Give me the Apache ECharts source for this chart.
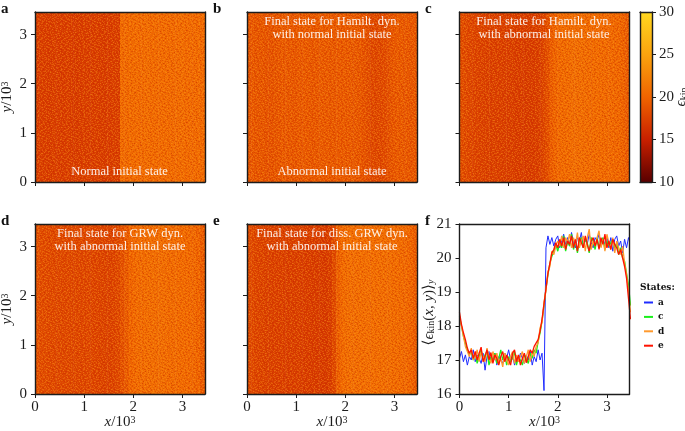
<!DOCTYPE html>
<html><head><meta charset="utf-8">
<style>html,body{margin:0;padding:0;background:#fff}#c{width:685px;height:431px}</style>
<script src="https://cdn.jsdelivr.net/npm/echarts@6/dist/echarts.min.js"></script>
</head><body><div id="c"></div>
<script>
const xMaxK = 3.46;
const tickK = [0, 1, 2, 3];
const colormap = ['#5a0000', '#c82000', '#f06400', '#fba30e', '#ffd720'];

// column means of the kinetic energy, 40 equal columns across each map
const heatA = [17.0,17.1,17.0,16.9,17.1,17.0,17.0,17.1,17.0,16.9,17.0,17.1,17.0,17.0,17.1,17.0,16.9,17.0,17.1,17.0,
  20.5,20.4,20.5,20.5,20.4,20.5,20.6,20.4,20.5,20.4,20.5,20.5,20.4,20.5,20.6,20.4,20.5,20.4,20.5,20.4];
const heatB = [19.0,19.0,18.9,18.9,18.7,18.7,18.8,19.0,19.1,19.1,19.0,19.0,19.1,19.2,19.1,19.0,19.1,19.1,19.2,19.1,
  19.1,19.2,19.1,19.1,19.1,19.1,19.0,18.7,18.2,17.9,17.8,17.9,18.1,18.5,19.0,19.1,19.1,19.0,18.9,18.9];
const heatC = [18.2,17.9,17.7,17.5,17.4,17.3,17.3,17.2,17.2,17.2,17.1,17.1,17.1,17.0,17.0,16.9,16.9,17.0,17.1,17.4,
  18.2,19.2,19.9,20.3,20.5,20.5,20.6,20.6,20.6,20.6,20.5,20.5,20.5,20.4,20.4,20.3,20.2,20.1,19.8,19.2];
const heatD = [18.4,18.1,18.0,17.9,17.9,17.8,17.8,17.8,17.8,17.8,17.7,17.7,17.7,17.6,17.6,17.5,17.4,17.4,17.5,17.8,
  18.5,19.3,20.0,20.3,20.5,20.5,20.6,20.6,20.6,20.6,20.6,20.5,20.5,20.5,20.4,20.4,20.3,20.2,19.9,19.3];
const heatE = [18.0,17.7,17.5,17.4,17.3,17.3,17.2,17.2,17.2,17.1,17.1,17.1,17.1,17.0,17.0,16.9,16.9,16.8,16.8,17.1,
  18.0,19.6,20.4,20.6,20.7,20.7,20.7,20.7,20.7,20.7,20.7,20.6,20.6,20.6,20.5,20.5,20.4,20.2,20.0,19.3];

// y-averaged profiles sampled every 0.04 (x/10^3) from x = 0
const profileStep = 0.04;
const profileA = [17.05,17.25,16.95,17.15,16.85,17.1,17.0,17.3,16.95,17.15,17.05,16.9,17.2,16.7,17.1,17.25,16.95,17.05,17.2,16.85,
  17.1,17.0,16.9,17.2,17.05,17.3,17.0,17.15,16.85,17.1,16.95,17.2,17.05,16.9,17.15,17.0,17.25,16.85,17.1,16.95,
  17.3,17.0,17.2,16.1,20.3,20.65,20.4,20.6,20.35,20.55,20.65,20.3,20.5,20.7,20.4,20.6,20.35,20.75,20.45,20.3,
  20.6,20.5,20.75,20.3,20.55,20.4,20.7,20.45,20.3,20.6,20.5,20.7,20.35,20.55,20.4,20.65,20.3,20.6,20.2,20.55,
  20.65,20.35,20.5,20.15,20.55,20.3,20.6,20.4];
const profileC = [18.3,18.0,17.7,17.5,17.3,17.15,17.25,17.0,17.2,16.9,17.1,17.3,17.0,17.15,17.25,16.85,17.1,17.0,17.2,16.9,
  17.05,17.3,17.0,17.2,16.85,17.1,16.95,17.05,17.25,16.85,17.1,17.0,16.85,17.15,17.05,16.9,17.2,17.05,17.3,17.2,
  17.55,17.8,18.15,18.6,19.1,19.5,19.85,20.05,20.2,20.4,20.2,20.45,20.3,20.65,20.2,20.5,20.35,20.7,20.25,20.5,
  20.15,20.5,20.6,20.3,20.55,20.45,20.15,20.6,20.5,20.25,20.6,20.3,20.45,20.6,20.25,20.5,20.35,20.3,20.55,20.3,
  20.45,20.1,20.3,20.0,19.9,19.55,19.2,18.6];
const profileD = [18.2,18.0,17.7,17.4,17.4,17.1,17.35,17.0,17.1,17.3,16.95,17.25,17.1,16.95,17.35,17.1,16.9,17.25,17.0,17.2,
  16.9,17.05,16.8,17.2,17.0,16.85,17.1,17.25,16.9,17.15,16.95,17.1,17.25,16.9,17.1,17.3,16.95,17.25,17.1,17.4,
  17.5,17.95,18.1,18.7,19.05,19.6,19.75,20.2,20.1,20.35,20.5,20.35,20.65,20.3,20.6,20.45,20.7,20.3,20.6,20.4,
  20.75,20.3,20.5,20.65,20.2,20.6,20.85,20.25,20.5,20.35,20.6,20.8,20.3,20.55,20.2,20.7,20.45,20.25,20.6,20.15,
  20.5,20.3,20.1,20.35,19.85,19.5,19.05,18.4];
const profileE = [18.4,18.05,17.8,17.6,17.35,17.2,17.3,17.05,17.25,17.0,17.2,17.38,16.95,17.1,17.3,17.0,17.22,16.9,17.15,17.05,
  16.85,17.1,17.25,16.95,17.15,17.0,16.85,17.2,17.3,16.95,17.15,16.85,17.05,17.2,16.92,17.1,17.3,17.2,17.4,17.45,
  17.6,17.85,18.2,18.65,19.1,19.55,19.85,20.15,20.25,20.45,20.3,20.55,20.35,20.6,20.25,20.5,20.4,20.65,20.3,20.55,
  20.2,20.6,20.45,20.3,20.65,20.4,20.2,20.5,20.6,20.35,20.55,20.25,20.6,20.4,20.7,20.3,20.5,20.25,20.55,20.4,
  20.3,20.1,20.25,20.0,19.75,19.4,18.8,18.2];

const panelLetters = ['a', 'b', 'c', 'd', 'e', 'f'];
const legendNames = ['a', 'c', 'd', 'e'];

// fine film-grain fill style for the maps (a drawing texture, not data)
const grainTileA = [
"##..o...#.oo...#..#.o..",
"..#...oo..#...##...o...",
".o..#....#..o....#...##",
"#...##.o...#..oo....o..",
"..o....#..o...#...#....",
"...#o.....##.....o.o.#.",
"#.....#.o....o#.....#..",
"..oo.#....#.....#.o....",
".#......o...##.o....#.o",
"....#.#...o.......#..#.",
"o.#....o....#.o.##.....",
"...o.#...##.....o...o.#",
"#.......o....#.#...#...",
"..##.o....#.o.....o...#",
".o....#.#.....#.o....#.",
"....o.....o#.#....##...",
"#.#...#o.......o.#...o.",
"..o.#....#.oo.......#..",
"o.....##....#..#.o....#",
"..#.o...#.o....#...o.#.",
"#....o#.....o.#..#.....",
"..##....o.#.....o..##.o",
".o...#.#...#.o.#.......",
];
const grainTileB = [
"..#.....o#....#.o..#...#.o...",
"#...o.#.....o....#....o...##.",
".o#.....##.#...o...#.#....o..",
"....#o.....o.....##...o.#....",
"##.....#.o...#.o.....#.....o#",
"..o.#.....#.....#.oo....#....",
".#....o.#...o.#.......#...o.#",
"o...##....o....#...#o....#...",
"..#.....#...##..o.....#...o..",
"#...o.#...o.......#.o...#...#",
".o......o.#.#.o.#.....#...o..",
"...##.#.......o...o.#....#...",
"#.....o...#o....#.....o.#..o.",
"..o.#...#.....#...##......#..",
".#....#...o.#...o....#o.....#",
"...o.....#....o.#.......##.o.",
"#.#..o.#...#.......o.#.....#.",
"....#.....o..#.#.......o.#...",
".o#...o.#.....o...#.#....o..#",
"....#.....##.....o....#......",
"#..o..#.o....#.#...o.....#.o.",
".#.....#...o.....#...#.o.....",
"...o.#....#..#.o....#....#..#",
"o.#....o.....#...#.o...#.....",
"..#.#....#.o.....#....o..#.o.",
"#.....o.#....#.o...#.#.......",
"...#o.....#.....#.......o.#.#",
".#....#.o...o#....o.#.....#..",
"o..#.....#.....#.#...#o.o....",
];

function makeTile(rows, light, dark) {
  const n = rows.length, raw = document.createElement('canvas');
  raw.width = n; raw.height = n;
  const g = raw.getContext('2d');
  rows.forEach((r, y) => { for (let x = 0; x < n; x++) {
    const ch = r[x];
    if (ch === '#') { g.fillStyle = light; g.fillRect(x, y, 1, 1); }
    if (ch === 'o') { g.fillStyle = dark; g.fillRect(x, y, 1, 1); }
  }});
  const cv = document.createElement('canvas');
  cv.width = n; cv.height = n;
  const h = cv.getContext('2d');
  h.filter = 'blur(0.5px)';
  h.drawImage(raw, 0, 0);
  return cv;
}
const tileA = makeTile(grainTileA, 'rgba(255,170,30,0.30)', 'rgba(190,35,0,0.30)');
const tileB = makeTile(grainTileB, 'rgba(255,160,30,0.22)', 'rgba(180,30,0,0.24)');

const chart = echarts.init(document.getElementById('c'), null, {renderer: 'canvas'});
const serif = '"Liberation Serif", "DejaVu Serif", serif';
const boldSerif = '"DejaVu Serif", "Liberation Serif", serif';
const ink = '#1c1c1c';
function richAt(big, small) {
  return {
    i: {fontFamily: serif, fontStyle: 'italic', fontSize: big, color: ink},
    r: {fontFamily: serif, fontSize: big, color: ink},
    s: {fontFamily: serif, fontSize: small, color: ink, verticalAlign: 'top', padding: [0, 0, 5, 0]},
    u: {fontFamily: serif, fontSize: small, color: ink, verticalAlign: 'bottom', padding: [5, 0, 0, 0]},
    ui: {fontFamily: serif, fontStyle: 'italic', fontSize: small, color: ink, verticalAlign: 'bottom', padding: [5, 0, 0, 0]},
    gap: {width: 7}
  };
}
const rich = richAt(15, 10);
const richF = richAt(15, 10);

const panelBoxes = [
  {left: 35, top: 12}, {left: 247, top: 12}, {left: 459.5, top: 12},
  {left: 35, top: 224}, {left: 247, top: 224}, {left: 459.5, top: 224}
];
const size = 170;
const grids = panelBoxes.map(b => ({left: b.left, top: b.top, width: size, height: size, outerBoundsMode: 'none'}));
grids.push({left: 640, top: 12, width: 12, height: size, outerBoundsMode: 'none'});

const xAxes = [], yAxes = [];
function frameX(g) { return {type: 'value', gridIndex: g, position: 'top', min: 0, max: 1, z: 8, axisLine: {onZero: false, lineStyle: {color: ink, width: 1.4}}, axisTick: {show: false}, axisLabel: {show: false}, splitLine: {show: false}}; }
function frameY(g) { return {type: 'value', gridIndex: g, position: 'right', min: 0, max: 1, z: 8, axisLine: {onZero: false, lineStyle: {color: ink, width: 1.4}}, axisTick: {show: false}, axisLabel: {show: false}, splitLine: {show: false}}; }
function baseAxis(g, pos, extra) {
  return Object.assign({type: 'value', gridIndex: g, position: pos, z: 8,
    axisLine: {onZero: false, lineStyle: {color: ink, width: 1.4}},
    axisTick: {length: 4, lineStyle: {color: ink, width: 1}, customValues: tickK},
    axisLabel: {color: ink, fontFamily: serif, fontSize: 15, margin: pos === 'left' ? 8 : 6, customValues: tickK, formatter: v => String(v)},
    splitLine: {show: false}}, extra);
}
const xName = '{i|x}{r|/10}{s|3}', yName = '{i|y}{r|/10}{s|3}';
panelBoxes.forEach((b, g) => {
  const bottomRow = g >= 3, leftCol = g === 0 || g === 3;
  const x = baseAxis(g, 'bottom', {min: 0, max: xMaxK});
  if (!bottomRow) x.axisLabel = Object.assign({}, x.axisLabel, {show: false});
  else Object.assign(x, {name: xName, nameLocation: 'middle', nameGap: 21, nameMoveOverlap: false, nameTextStyle: {rich}});
  let y;
  if (g === 5) {
    y = baseAxis(g, 'left', {min: 16, max: 21, interval: 1, name: '{r|⟨}{i|ϵ}{u|kin}{r|(}{i|x, y}{r|)⟩}{ui|y}{gap|}', nameLocation: 'middle', nameGap: 23, nameMoveOverlap: false, nameRotate: 90, nameTextStyle: {rich: richF}});
    y.axisTick = {length: 4, lineStyle: {color: ink, width: 1}};
    y.axisLabel = {color: ink, fontFamily: serif, fontSize: 15, margin: 8};
  } else {
    y = baseAxis(g, 'left', {min: 0, max: xMaxK});
    if (!leftCol) y.axisLabel = Object.assign({}, y.axisLabel, {show: false});
    else Object.assign(y, {name: yName, nameLocation: 'middle', nameGap: 20, nameMoveOverlap: false, nameRotate: 90, nameTextStyle: {rich}});
  }
  xAxes.push(x); yAxes.push(y);
});
// colorbar axes (grid 6)
xAxes.push({type: 'value', gridIndex: 6, position: 'bottom', min: 0, max: 1, z: 8, axisLine: {onZero: false, lineStyle: {color: ink, width: 1.4}}, axisTick: {show: false}, axisLabel: {show: false}, splitLine: {show: false}});
yAxes.push({type: 'value', gridIndex: 6, position: 'right', min: 10, max: 30, interval: 5, z: 8,
  axisLine: {onZero: false, lineStyle: {color: ink, width: 1.4}},
  axisTick: {length: 4, lineStyle: {color: ink, width: 1}},
  axisLabel: {color: ink, fontFamily: serif, fontSize: 15, margin: 7},
  splitLine: {show: false}, name: '{i|ϵ}{u|kin}', nameLocation: 'middle', nameGap: 22, nameMoveOverlap: false, nameRotate: 90, nameTextStyle: {rich}});
// frames: top + right for panels, top + left for the colorbar
for (let g = 0; g < 6; g++) { xAxes.push(frameX(g)); yAxes.push(frameY(g)); }
xAxes.push(frameX(6));
yAxes.push(Object.assign(frameY(6), {position: 'left'}));

function columnRows(values) {
  const w = xMaxK / values.length;
  return values.map((v, i) => [i * w, (i + 1) * w, v]);
}
function renderColumn(params, api) {
  const p0 = api.coord([api.value(0), xMaxK]);
  const p1 = api.coord([api.value(1), 0]);
  return {type: 'rect', shape: {x: p0[0], y: p0[1], width: p1[0] - p0[0] + 0.6, height: p1[1] - p0[1]},
    style: {fill: api.visual('color')}, silent: true};
}
function renderGrain(tile) {
  return function (params, api) {
    const p0 = api.coord([0, xMaxK]);
    const p1 = api.coord([xMaxK, 0]);
    return {type: 'rect', shape: {x: p0[0], y: p0[1], width: p1[0] - p0[0], height: p1[1] - p0[1]},
      style: {fill: {image: tile, repeat: 'repeat'}}, silent: true};
  };
}
const heatPanels = [heatA, heatB, heatC, heatD, heatE];
const series = [];
const heatIdx = [];
heatPanels.forEach((vals, g) => {
  heatIdx.push(series.length);
  series.push({type: 'custom', xAxisIndex: g, yAxisIndex: g, coordinateSystem: 'cartesian2d', clip: true, z: 2,
    data: columnRows(vals), dimensions: ['x0', 'x1', 'v'], encode: {x: [0, 1]}, renderItem: renderColumn, animation: false});
  [tileA, tileB].forEach(t => series.push({type: 'custom', xAxisIndex: g, yAxisIndex: g, coordinateSystem: 'cartesian2d', z: 3,
    data: [[0]], renderItem: renderGrain(t), animation: false, silent: true}));
});
// colorbar as one gradient box spanning the scale
const cbIndex = 6;
series.push({type: 'custom', xAxisIndex: cbIndex, yAxisIndex: cbIndex, coordinateSystem: 'cartesian2d', z: 2, silent: true, animation: false,
  data: [[0, 10, 1, 30]],
  renderItem: (params, api) => {
    const a = api.coord([api.value(0), api.value(3)]), b = api.coord([api.value(2), api.value(1)]);
    return {type: 'rect', shape: {x: a[0], y: a[1], width: b[0] - a[0], height: b[1] - a[1]},
      style: {fill: new echarts.graphic.LinearGradient(0, 1, 0, 0, colormap.map((c, i) => ({offset: i / (colormap.length - 1), color: c})))}};
  }});
const profiles = [profileA, profileC, profileD, profileE];
const lineColors = ['#1f2cff', '#19f019', '#ff9a2e', '#ff1200'];
const lineWidths = [1, 1.3, 1.3, 1.3];
profiles.forEach((vals, k) => {
  series.push({type: 'line', name: legendNames[k], xAxisIndex: 5, yAxisIndex: 5, showSymbol: false, symbol: 'none', clip: true, z: 3 + k,
    data: vals.map((v, i) => [i * profileStep, v]), lineStyle: {color: lineColors[k], width: lineWidths[k]}, itemStyle: {color: lineColors[k]}, animation: false});
});

const noteStyle = {color: 'rgba(255,255,255,0.9)', fontFamily: serif, fontSize: 12.5, lineHeight: 13, fontWeight: 'normal', align: 'center'};
function note(text, cx, top) { return {text, left: cx, top, textAlign: 'center', padding: 0, textStyle: noteStyle}; }
const letterPos = [[1, 2], [213, 2], [425, 2], [1, 214], [213, 214], [425, 214]];
const titles = panelLetters.map((t, i) => ({text: t, left: letterPos[i][0], top: letterPos[i][1], padding: 0,
  textStyle: {fontFamily: serif, fontWeight: 'bold', fontSize: 15, color: '#111'}}));
titles.push(note('Normal initial state', 119.5, 165));
titles.push(note('Abnormal initial state', 332, 165));
titles.push(note('Final state for Hamilt. dyn.\nwith normal initial state', 332, 15));
titles.push(note('Final state for Hamilt. dyn.\nwith abnormal initial state', 544, 15));
titles.push(note('Final state for GRW dyn.\nwith abnormal initial state', 120, 227));
titles.push(note('Final state for diss. GRW dyn.\nwith abnormal initial state', 332, 227));
titles.push({text: 'States:', left: 640, top: 283, padding: 0, textStyle: {fontFamily: boldSerif, fontWeight: 'bold', fontSize: 9, color: '#111'}});

chart.setOption({
  animation: false,
  backgroundColor: '#fff',
  title: titles,
  grid: grids,
  xAxis: xAxes,
  yAxis: yAxes,
  visualMap: {type: 'continuous', show: false, min: 10, max: 30, dimension: 2, seriesIndex: heatIdx, inRange: {color: colormap}},
  legend: {data: legendNames, orient: 'vertical', left: 644, top: 297.5, itemWidth: 9, itemHeight: 2, itemGap: 4.4, icon: 'rect', padding: 0,
    textStyle: {fontFamily: boldSerif, fontWeight: 'bold', fontSize: 9, color: '#111', lineHeight: 10}, selectedMode: false},
  series
});
</script></body></html>
